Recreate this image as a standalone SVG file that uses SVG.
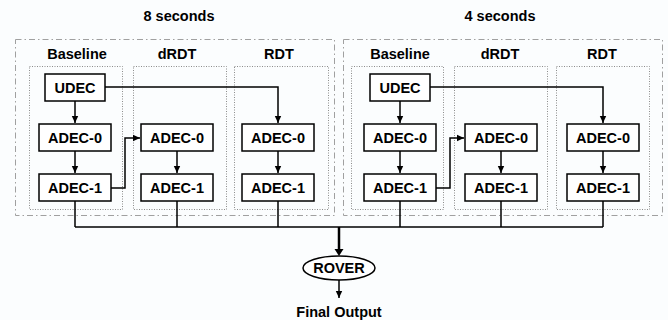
<svg xmlns="http://www.w3.org/2000/svg" width="668" height="320" viewBox="0 0 668 320">
  <defs>
    <marker id="arrow" markerWidth="8" markerHeight="8" refX="7" refY="4" orient="auto" markerUnits="userSpaceOnUse">
      <path d="M0,0.8 L7,4 L0,7.2 Z" fill="#000"/>
    </marker>
    <style>
      text { font-family: "Liberation Sans", Arial, Helvetica, sans-serif; font-weight: bold; font-size: 14.5px; fill: #000; text-anchor: middle; }
      .group { fill: none; stroke: #a0a0a0; stroke-width: 1; stroke-dasharray: 6 3 1.5 3; }
      .lane { fill: none; stroke: #8c8c8c; stroke-width: 1; stroke-dasharray: 1 1.5; }
      .box rect { fill: #fff; stroke: #000; stroke-width: 1.5; }
      .wire { fill: none; stroke: #000; stroke-width: 1.5; }
      .arr { marker-end: url(#arrow); }
      .trunk { fill: none; stroke: #000; stroke-width: 2.5; }
    </style>
  </defs>

  <rect width="668" height="320" fill="#fbfdfe"/>

  <!-- Condition groups and decoding lanes -->
  <g id="group-8s">
    <text x="179" y="21">8 seconds</text>
    <rect class="group" x="15.5" y="39.5" width="319" height="176"/>
    <text x="77" y="59">Baseline</text>
    <text x="177" y="59">dRDT</text>
    <text x="279" y="59">RDT</text>
    <rect class="lane" x="29.5" y="66.5" width="93" height="143"/>
    <rect class="lane" x="133.5" y="66.5" width="93" height="143"/>
    <rect class="lane" x="234.5" y="66.5" width="94" height="143"/>
  </g>
  <g id="group-4s">
    <text x="500" y="21">4 seconds</text>
    <rect class="group" x="343.5" y="39.5" width="319" height="176"/>
    <text x="400" y="59">Baseline</text>
    <text x="500" y="59">dRDT</text>
    <text x="602" y="59">RDT</text>
    <rect class="lane" x="351.5" y="66.5" width="92" height="143"/>
    <rect class="lane" x="454.5" y="66.5" width="93" height="143"/>
    <rect class="lane" x="556.5" y="66.5" width="93" height="143"/>
  </g>

  <!-- Connectors -->
  <g id="connectors">
    <!-- 8 seconds -->
    <path class="wire arr" d="M75,101 V123"/>
    <path class="wire arr" d="M75,151 V173"/>
    <path class="wire arr" d="M105,87 H278 V123"/>
    <path class="wire arr" d="M278,151 V173"/>
    <path class="wire arr" d="M111,188 H125 V138 H140"/>
    <path class="wire arr" d="M177,151 V173"/>
    <!-- 4 seconds -->
    <path class="wire arr" d="M400,101 V123"/>
    <path class="wire arr" d="M400,151 V173"/>
    <path class="wire arr" d="M430,87 H603 V123"/>
    <path class="wire arr" d="M603,151 V173"/>
    <path class="wire arr" d="M436,188 H450 V138 H464"/>
    <path class="wire arr" d="M501,151 V173"/>
    <!-- output bus -->
    <path class="wire" d="M75,201 V227 M177,201 V227 M278,201 V227 M400,201 V227 M501,201 V227 M603,201 V227"/>
    <path class="wire" d="M75,227 H603"/>
    <path class="trunk" d="M339,227 V251"/>
    <path d="M334.5,249 L339,256 L343.5,249 Z" fill="#000"/>
    <path class="wire arr" d="M339,280 V298"/>
  </g>

  <!-- Decoder nodes -->
  <g id="udec-8s" class="box"><rect x="45" y="74" width="60" height="27"/><text x="75" y="92.5">UDEC</text></g>
  <g id="base-adec0-8s" class="box"><rect x="39" y="124" width="72" height="27"/><text x="75" y="142.5">ADEC-0</text></g>
  <g id="base-adec1-8s" class="box"><rect x="39" y="174" width="72" height="27"/><text x="75" y="192.5">ADEC-1</text></g>
  <g id="drdt-adec0-8s" class="box"><rect x="141" y="124" width="72" height="27"/><text x="177" y="142.5">ADEC-0</text></g>
  <g id="drdt-adec1-8s" class="box"><rect x="141" y="174" width="72" height="27"/><text x="177" y="192.5">ADEC-1</text></g>
  <g id="rdt-adec0-8s" class="box"><rect x="242" y="124" width="72" height="27"/><text x="278" y="142.5">ADEC-0</text></g>
  <g id="rdt-adec1-8s" class="box"><rect x="242" y="174" width="72" height="27"/><text x="278" y="192.5">ADEC-1</text></g>

  <g id="udec-4s" class="box"><rect x="370" y="74" width="60" height="27"/><text x="400" y="92.5">UDEC</text></g>
  <g id="base-adec0-4s" class="box"><rect x="364" y="124" width="72" height="27"/><text x="400" y="142.5">ADEC-0</text></g>
  <g id="base-adec1-4s" class="box"><rect x="364" y="174" width="72" height="27"/><text x="400" y="192.5">ADEC-1</text></g>
  <g id="drdt-adec0-4s" class="box"><rect x="465" y="124" width="72" height="27"/><text x="501" y="142.5">ADEC-0</text></g>
  <g id="drdt-adec1-4s" class="box"><rect x="465" y="174" width="72" height="27"/><text x="501" y="192.5">ADEC-1</text></g>
  <g id="rdt-adec0-4s" class="box"><rect x="567" y="124" width="72" height="27"/><text x="603" y="142.5">ADEC-0</text></g>
  <g id="rdt-adec1-4s" class="box"><rect x="567" y="174" width="72" height="27"/><text x="603" y="192.5">ADEC-1</text></g>

  <!-- Combination and result -->
  <g id="rover">
    <ellipse cx="339" cy="268" rx="36" ry="12" fill="#fff" stroke="#000" stroke-width="1.5"/>
    <text x="339" y="273">ROVER</text>
  </g>
  <g id="final-output">
    <text x="339" y="317">Final Output</text>
  </g>
</svg>
